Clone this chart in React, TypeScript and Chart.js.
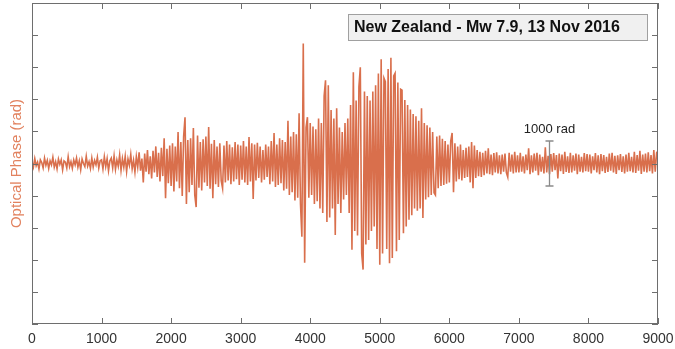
import React, { useEffect, useRef } from "react";
import { Chart, registerables } from "chart.js";

Chart.register(...registerables);

// Sampling step of the optical phase record (x units)
const STEP = 20;

// Optical phase (rad), one array per 1000 x-units
const SEG_0 = [40, -80, 110, -50, 30, -120, 80, 20, -100, 120, -40, 70, -110, 60, -30, 140, -80, 40, -120, 100, -20, 80, -140, 60, 30, -100, 150, -70, 40, -110, 80, -30, 120, -80, 60, -140, 100, 0, -70, 160, -60, 40, -110, 120, -80, 70, -30, 140, -100, 60];
const SEG_1 = [80, -120, 150, -70, 110, -160, 60, 120, -100, 170, -130, 80, -60, 190, -150, 110, -80, 160, -180, 100, -40, 200, -120, 70, -190, 150, -80, 250, -160, 110, -420, 220, -180, 300, -240, 160, -330, 280, -200, 380, -300, 240, -400, 350, -280, 560, -770, 330, -440, 400];
const SEG_2 = [-500, 450, -620, 380, -400, 700, -550, 480, -720, 600, 1030, -900, 520, -640, 560, -480, 790, -700, -970, 620, -540, 480, -600, 540, -420, 600, -500, 810, -560, 440, -770, 520, -460, 380, -520, 450, -380, -550, 400, -420, 500, -380, 420, -460, 360, -400, 480, -350, 420, -480];
const SEG_3 = [400, -360, 500, -420, 380, -480, 590, -400, 450, -790, 420, -380, 460, -320, 380, -420, 300, -360, 420, -300, 380, -460, 500, -400, 680, -520, 420, -480, 560, -440, 520, -600, 480, -560, 950, -700, 600, -640, 700, -820, 650, -760, 1120, -900, -1630, 2670, -2210, 800, 1030, -760];
const SEG_4 = [900, -700, 820, -900, 760, -840, 1000, -1000, 900, -1100, 1500, 1850, -1300, 1740, -1200, 1190, -1000, 1000, -1590, 1230, -900, 800, -1100, 700, -800, 900, -700, 1000, -1100, 1300, -1920, 2030, -1500, 1400, -1600, 1700, 2140, -2000, -2360, 1600, -1800, 1500, -1700, 1400, -1500, 1600, -1400, 1740, -1900, 2000];
const SEG_5 = [-2250, 2320, -2000, 1900, 1820, -1900, 2100, -2220, 2350, -2100, 1950, 2010, -1950, 1800, -1700, 1650, 1630, -1550, 1410, -1400, 1300, -1250, 1200, -1150, 1100, -1000, 1050, -1050, 950, -1000, 1230, -1210, 900, -800, 850, -750, 800, -700, 700, -650, -700, 600, -550, 620, -500, 550, -480, 500, -450, 420];
const SEG_6 = [-420, 500, 680, -640, 450, -400, 380, -350, 420, -380, 300, -320, 350, -300, 380, -420, 480, -550, 400, -320, 300, -280, 260, -300, 240, -260, 280, -220, 340, -240, 200, -260, 230, -200, 250, -220, 180, -240, 200, -180, 220, -200, -300, 240, -180, 200, -220, 260, -200, 180];
const SEG_7 = [-200, 240, -180, 160, -220, 200, -150, 340, -240, 180, -200, 220, -160, 240, -260, 200, -180, 150, -220, 360, -200, 170, -240, 210, -180, 230, -150, 190, -330, 220, -170, 200, -230, 260, -190, 160, -210, 240, -200, 180, -160, 220, -240, 200, -180, 150, -200, 230, -170, 210];
const SEG_8 = [-180, 200, -220, 160, -150, 230, -200, 180, -240, 210, -170, 190, -210, 150, -190, 220, -160, 240, -200, 170, -230, 180, -150, 210, -190, 160, -220, 200, -180, 240, -170, 150, -200, 260, -210, 190, -160, 280, -230, 200, -180, 220, -200, 250, -170, 190, -220, 300, -180, 240, 280];

const PHASE = [...SEG_0, ...SEG_1, ...SEG_2, ...SEG_3, ...SEG_4, ...SEG_5, ...SEG_6, ...SEG_7, ...SEG_8];

const X_MIN = 0;
const X_MAX = 9000;
const X_TICK_STEP = 1000;
const Y_LIMIT = 3570;
const Y_TICK_STEP = 714;

const TITLE = "New Zealand - Mw 7.9, 13 Nov 2016";
const Y_TITLE = "Optical Phase (rad)";
const SCALE_BAR_X = 7440;
const SCALE_BAR_RAD = 1000;
const SCALE_BAR_LABEL = "1000 rad";

const LINE_COLOR = "#d96f4c";
const AXIS_COLOR = "#6e6e6e";
const FONT = '"Liberation Sans", Arial, Helvetica, sans-serif';

const decorations = {
  id: "decorations",
  afterDraw(chart: any) {
    const { ctx, chartArea, scales } = chart;
    const { left, right, top, bottom } = chartArea;
    const xs = scales.x;
    const ys = scales.y;
    ctx.save();
    // box
    ctx.strokeStyle = AXIS_COLOR;
    ctx.lineWidth = 1;
    ctx.strokeRect(left + 0.5, top + 0.5, right - left - 1, bottom - top - 1);
    // inward ticks
    const TL = 6;
    ctx.beginPath();
    xs.ticks.forEach((t: any) => {
      const px = Math.round(xs.getPixelForValue(t.value)) + 0.5;
      ctx.moveTo(px, bottom);
      ctx.lineTo(px, bottom - TL);
      ctx.moveTo(px, top);
      ctx.lineTo(px, top + TL);
    });
    ys.ticks.forEach((t: any) => {
      const py = Math.round(ys.getPixelForValue(t.value)) + 0.5;
      ctx.moveTo(left, py);
      ctx.lineTo(left + TL, py);
      ctx.moveTo(right, py);
      ctx.lineTo(right - TL, py);
    });
    ctx.stroke();

    // x tick labels
    ctx.fillStyle = "#333";
    ctx.font = `14px ${FONT}`;
    ctx.textAlign = "center";
    ctx.textBaseline = "middle";
    xs.ticks.forEach((t: any) => {
      ctx.fillText(String(t.value), xs.getPixelForValue(t.value), bottom + 15.5);
    });

    // y title
    ctx.save();
    ctx.translate(17, (top + bottom) / 2);
    ctx.rotate(-Math.PI / 2);
    ctx.fillStyle = "#e2825f";
    ctx.font = `15px ${FONT}`;
    ctx.textAlign = "center";
    ctx.textBaseline = "middle";
    ctx.fillText(Y_TITLE, 0, 0);
    ctx.restore();

    // scale bar
    const bx = Math.round(xs.getPixelForValue(SCALE_BAR_X)) + 0.5;
    const by1 = ys.getPixelForValue(SCALE_BAR_RAD / 2);
    const by2 = ys.getPixelForValue(-SCALE_BAR_RAD / 2);
    ctx.strokeStyle = "#8a8a8a";
    ctx.lineWidth = 1.3;
    ctx.beginPath();
    ctx.moveTo(bx, by1);
    ctx.lineTo(bx, by2);
    ctx.moveTo(bx - 4, by1);
    ctx.lineTo(bx + 4, by1);
    ctx.moveTo(bx - 4, by2);
    ctx.lineTo(bx + 4, by2);
    ctx.stroke();
    ctx.fillStyle = "#222";
    ctx.font = `13px ${FONT}`;
    ctx.textAlign = "center";
    ctx.textBaseline = "middle";
    ctx.fillText(SCALE_BAR_LABEL, bx, by1 - 12);

    // title box
    const boxL = 348, boxT = 14, boxW = 299, boxH = 26;
    ctx.fillStyle = "#f0f0f0";
    ctx.fillRect(boxL, boxT, boxW, boxH);
    ctx.strokeStyle = "#a0a0a0";
    ctx.lineWidth = 1;
    ctx.strokeRect(boxL + 0.5, boxT + 0.5, boxW, boxH);
    ctx.fillStyle = "#111";
    ctx.font = `bold 16px ${FONT}`;
    ctx.textAlign = "left";
    ctx.textBaseline = "middle";
    ctx.fillText(TITLE, boxL + 6, boxT + boxH / 2 + 1);
    ctx.restore();
  },
};

export default function App() {
  const ref = useRef<HTMLCanvasElement | null>(null);
  useEffect(() => {
    if (!ref.current) return;
    const points = PHASE.map((v, i) => ({ x: X_MIN + i * STEP, y: v }));
    const chart = new Chart(ref.current, {
      type: "line",
      data: {
        datasets: [
          {
            data: points,
            borderColor: LINE_COLOR,
            borderWidth: 1.6,
            pointRadius: 0,
            tension: 0,
            fill: false,
          },
        ],
      },
      options: {
        responsive: false,
        animation: false,
        layout: { padding: { top: 3, right: 17, left: 0, bottom: 0 } },
        plugins: { legend: { display: false }, tooltip: { enabled: false } },
        scales: {
          x: {
            type: "linear",
            min: X_MIN,
            max: X_MAX,
            ticks: { stepSize: X_TICK_STEP, display: false },
            grid: { display: false, drawTicks: false },
            border: { display: false },
            afterFit: (s: any) => {
              s.height = 25;
            },
          },
          y: {
            min: -Y_LIMIT,
            max: Y_LIMIT,
            ticks: { stepSize: Y_TICK_STEP, display: false },
            grid: { display: false, drawTicks: false },
            border: { display: false },
            afterFit: (s: any) => {
              s.width = 32;
            },
          },
        },
      },
      plugins: [decorations],
    });
    return () => chart.destroy();
  }, []);
  return (
    <div style={{ position: "fixed", left: 0, top: 0, width: 675, height: 349, background: "#fff" }}>
      <canvas ref={ref} width={675} height={349} />
    </div>
  );
}
